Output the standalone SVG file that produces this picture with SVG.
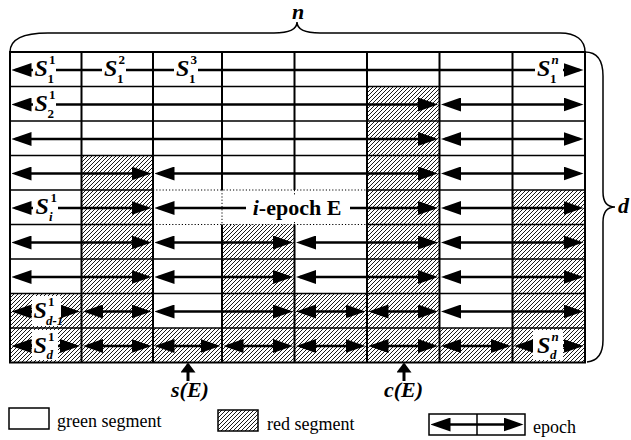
<svg xmlns="http://www.w3.org/2000/svg" width="631" height="440" viewBox="0 0 631 440">
<style>
.red{fill:url(#hatch);stroke:none}
.gl{stroke:#000;stroke-width:1.6;fill:none}
.vl{stroke:#000;stroke-width:2;fill:none}
.dot{stroke:#000;stroke-width:1;stroke-dasharray:1.2,2;fill:none}
.ep{stroke:#000;stroke-width:2.6;fill:none;marker-start:url(#ah);marker-end:url(#ah)}
.bg{fill:#fff;stroke:none}
.S{font-family:"Liberation Serif","Times New Roman",serif;font-weight:bold;font-style:italic;font-size:24px;fill:#000}
.sm{font-family:"Liberation Serif","Times New Roman",serif;font-weight:bold;font-size:13px;fill:#000}
.smi{font-family:"Liberation Serif","Times New Roman",serif;font-weight:bold;font-style:italic;font-size:13px;fill:#000}
.big{font-family:"Liberation Serif","Times New Roman",serif;font-weight:bold;font-style:italic;font-size:22px;fill:#000}
.lg{font-family:"Liberation Serif","Times New Roman",serif;font-size:18px;fill:#000}
.brace{stroke:#000;stroke-width:1.5;fill:none}
</style>
<defs>
<pattern id="hatch" width="4" height="4" patternUnits="userSpaceOnUse">
<rect width="4" height="4" fill="#fff"/>
<path d="M-1,1 L1,-1 M0,4 L4,0 M3,5 L5,3" stroke="#000" stroke-width="0.9"/>
</pattern>
<marker id="ah" viewBox="0 0 20 14" refX="16" refY="7" markerWidth="20" markerHeight="14" markerUnits="userSpaceOnUse" orient="auto-start-reverse">
<path d="M0,0 L20,7 L0,14 z" fill="#000"/>
</marker>
<marker id="up" viewBox="0 0 10 15" refX="8" refY="7.5" markerWidth="10" markerHeight="15" markerUnits="userSpaceOnUse" orient="auto">
<path d="M0,0 L10,7.5 L0,15 z" fill="#000"/>
</marker>
</defs>

<!-- braces -->
<g id="brace-n">
<path class="brace" d="M10,52 C10,40 22,33 48,33 L274,33 C289,33 297,30 297,22 C297,30 305,33 320,33 L560,33 C576,33 585,40 585,52"/>
<text class="big" x="298" y="19" text-anchor="middle" font-size="19">n</text>
</g>
<g id="brace-d">
<path class="brace" d="M585,52 C597,52 603,60 603,76 L603,192 C603,202 607,207 615,207 C607,207 603,212 603,222 L603,340 C603,354 597,361 587,362"/>
<text class="big" x="618" y="213">d</text>
</g>

<!-- red (hatched) segments per row -->
<g id="row2"><rect class="red" x="367" y="86.5" width="72.5" height="34.5"/></g>
<g id="row3"><rect class="red" x="367" y="121" width="72.5" height="34.5"/></g>
<g id="row4"><rect class="red" x="81.5" y="155.5" width="71.5" height="34.5"/><rect class="red" x="367" y="155.5" width="72.5" height="34.5"/></g>
<g id="row5"><rect class="red" x="81.5" y="190" width="71.5" height="34.5"/><rect class="red" x="367" y="190" width="72.5" height="34.5"/><rect class="red" x="512.5" y="190" width="72.5" height="34.5"/></g>
<g id="row6"><rect class="red" x="81.5" y="224.5" width="71.5" height="34.5"/><rect class="red" x="222" y="224.5" width="72.5" height="34.5"/><rect class="red" x="367" y="224.5" width="72.5" height="34.5"/><rect class="red" x="512.5" y="224.5" width="72.5" height="34.5"/></g>
<g id="row7"><rect class="red" x="81.5" y="259" width="71.5" height="34.5"/><rect class="red" x="222" y="259" width="72.5" height="34.5"/><rect class="red" x="367" y="259" width="72.5" height="34.5"/><rect class="red" x="512.5" y="259" width="72.5" height="34.5"/></g>
<g id="row8"><rect class="red" x="10" y="293.5" width="143" height="34.5"/><rect class="red" x="222" y="293.5" width="217.5" height="34.5"/><rect class="red" x="512.5" y="293.5" width="72.5" height="34.5"/></g>
<g id="row9"><rect class="red" x="10" y="328" width="575" height="34.5"/></g>

<!-- grid -->
<g id="grid">
<path class="gl" d="M10,86.5H585M10,121H585M10,155.5H585M10,190H153M367,190H585M10,224.5H153M367,224.5H585M10,259H585M10,293.5H585M10,328H585"/>
<path class="dot" d="M153,190H367M153,224.5H367M222,190V224.5M294.5,190V224.5"/>
<path class="vl" d="M81.5,52V362.5M153,52V362.5M222,52V190M222,224.5V362.5M294.5,52V190M294.5,224.5V362.5M367,52V362.5M439.5,52V362.5M512.5,52V362.5"/>
<rect class="vl" x="10" y="52" width="575" height="310.5"/>
</g>

<!-- epochs (connectors) -->
<g id="epochs">
<line class="ep" x1="15.5" y1="70" x2="579.5" y2="70"/>
<line class="ep" x1="15.5" y1="104.5" x2="434" y2="104.5"/>
<line class="ep" x1="445" y1="104.5" x2="579.5" y2="104.5"/>
<line class="ep" x1="15.5" y1="139" x2="434" y2="139"/>
<line class="ep" x1="445" y1="139" x2="579.5" y2="139"/>
<line class="ep" x1="15.5" y1="173.5" x2="147.5" y2="173.5"/>
<line class="ep" x1="158.5" y1="173.5" x2="434" y2="173.5"/>
<line class="ep" x1="445" y1="173.5" x2="579.5" y2="173.5"/>
<line class="ep" x1="15.5" y1="208" x2="147.5" y2="208"/>
<line class="ep" x1="158.5" y1="208" x2="434" y2="208"/>
<line class="ep" x1="445" y1="208" x2="579.5" y2="208"/>
<line class="ep" x1="15.5" y1="242.5" x2="147.5" y2="242.5"/>
<line class="ep" x1="158.5" y1="242.5" x2="289" y2="242.5"/>
<line class="ep" x1="300" y1="242.5" x2="434" y2="242.5"/>
<line class="ep" x1="445" y1="242.5" x2="579.5" y2="242.5"/>
<line class="ep" x1="15.5" y1="277" x2="147.5" y2="277"/>
<line class="ep" x1="158.5" y1="277" x2="289" y2="277"/>
<line class="ep" x1="300" y1="277" x2="434" y2="277"/>
<line class="ep" x1="445" y1="277" x2="579.5" y2="277"/>
<line class="ep" x1="15.5" y1="311.5" x2="76" y2="311.5"/>
<line class="ep" x1="87" y1="311.5" x2="147.5" y2="311.5"/>
<line class="ep" x1="158.5" y1="311.5" x2="289" y2="311.5"/>
<line class="ep" x1="300" y1="311.5" x2="361.5" y2="311.5"/>
<line class="ep" x1="372.5" y1="311.5" x2="434" y2="311.5"/>
<line class="ep" x1="445" y1="311.5" x2="579.5" y2="311.5"/>
<line class="ep" x1="15.5" y1="346" x2="76" y2="346"/>
<line class="ep" x1="87" y1="346" x2="147.5" y2="346"/>
<line class="ep" x1="158.5" y1="346" x2="216.5" y2="346"/>
<line class="ep" x1="227.5" y1="346" x2="289" y2="346"/>
<line class="ep" x1="300" y1="346" x2="361.5" y2="346"/>
<line class="ep" x1="372.5" y1="346" x2="434" y2="346"/>
<line class="ep" x1="445" y1="346" x2="507" y2="346"/>
<line class="ep" x1="518" y1="346" x2="579.5" y2="346"/>
</g>

<!-- segment labels -->
<g id="S11"><rect class="bg" x="33" y="57" width="23" height="28"/><text class="S" x="34.5" y="76">S</text><text class="sm" x="49" y="64">1</text><text class="sm" x="47.5" y="83">1</text></g>
<g id="S12"><rect class="bg" x="102" y="57" width="24" height="28"/><text class="S" x="104" y="76">S</text><text class="sm" x="118.5" y="64">2</text><text class="sm" x="117" y="83">1</text></g>
<g id="S13"><rect class="bg" x="174" y="57" width="24" height="28"/><text class="S" x="176" y="76">S</text><text class="sm" x="190.5" y="64">3</text><text class="sm" x="189" y="83">1</text></g>
<g id="S1n"><rect class="bg" x="535" y="57" width="28" height="28"/><text class="S" x="537" y="76">S</text><text class="smi" x="551.5" y="64">n</text><text class="sm" x="550" y="83">1</text></g>
<g id="S21"><rect class="bg" x="33" y="91" width="23" height="28"/><text class="S" x="34.5" y="110.5">S</text><text class="sm" x="49" y="98.5">1</text><text class="sm" x="47.5" y="117.5">2</text></g>
<g id="Si1"><rect class="bg" x="33" y="195" width="25" height="28"/><text class="S" x="35.5" y="214">S</text><text class="sm" x="50.5" y="202">1</text><text class="smi" x="49" y="221">i</text></g>
<g id="Sd11"><rect class="bg" x="32" y="296" width="29" height="30"/><text class="S" x="33.5" y="318">S</text><text class="sm" x="48" y="306">1</text><text class="smi" x="46" y="325">d-1</text></g>
<g id="Sd1"><rect class="bg" x="32" y="330" width="26" height="30"/><text class="S" x="33.5" y="352.5">S</text><text class="sm" x="48" y="340.5">1</text><text class="smi" x="46.5" y="359">d</text></g>
<g id="Sdn"><rect class="bg" x="533" y="330" width="30" height="30"/><text class="S" x="537" y="352.5">S</text><text class="smi" x="551.5" y="340.5">n</text><text class="smi" x="550" y="359">d</text></g>
<g id="epochE"><rect class="bg" x="246" y="196" width="104" height="24"/><text class="big" x="297" y="215" text-anchor="middle">i<tspan font-style="normal">-epoch E</tspan></text></g>

<!-- s(E), c(E) pointers -->
<g id="sE"><line x1="188" y1="381" x2="188" y2="364.5" stroke="#000" stroke-width="3" marker-end="url(#up)"/><text class="big" x="190" y="397" text-anchor="middle" font-size="20">s(E)</text></g>
<g id="cE"><line x1="404" y1="381" x2="404" y2="364.5" stroke="#000" stroke-width="3" marker-end="url(#up)"/><text class="big" x="403.5" y="397" text-anchor="middle" font-size="20">c(E)</text></g>

<!-- legend -->
<g id="legend-green"><rect x="9" y="408" width="40" height="21" fill="#fff" stroke="#000" stroke-width="1.5"/><text class="lg" x="57" y="427">green segment</text></g>
<g id="legend-red"><rect x="218" y="410" width="40" height="21" fill="url(#hatch)" stroke="#000" stroke-width="1.5"/><text class="lg" x="267" y="430">red segment</text></g>
<g id="legend-epoch"><rect x="429" y="414" width="96" height="21" fill="#fff" stroke="#000" stroke-width="1.5"/><line x1="477" y1="414" x2="477" y2="435" stroke="#000" stroke-width="1.5"/><line class="ep" x1="434.5" y1="424.5" x2="519.5" y2="424.5"/><text class="lg" x="533" y="433">epoch</text></g>
</svg>
